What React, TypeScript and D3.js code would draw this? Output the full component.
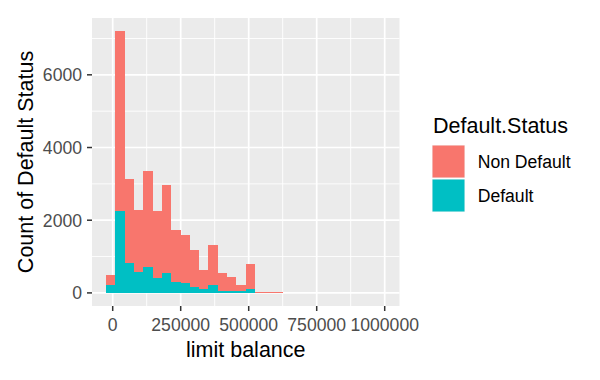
import React, { useEffect } from 'react';
import * as d3 from 'd3';

// ---- data ----
const binStart = -24700;
const binWidth = 34257;
const binCount = 30;
const totalCounts = [490, 7203, 3141, 2289, 3342, 2242, 2977, 1719, 1601, 1169, 627, 1315, 536, 426, 215, 784, 30, 20, 15, 0, 0, 0, 0, 0, 0, 0, 0, 0, 0, 0];
const defaultCounts = [215, 2242, 820, 583, 710, 418, 536, 289, 261, 170, 96, 215, 60, 60, 50, 105, 0, 0, 0, 0, 0, 0, 0, 0, 0, 0, 0, 0, 0, 0];
const groupLabels = ['Non Default', 'Default'];
const groupColors = ['#F8766D', '#00BFC4'];
const xTicks = [0, 250000, 500000, 750000, 1000000];
const yTicks = [0, 2000, 4000, 6000];
const legendTitle = 'Default.Status';
const xTitle = 'limit balance';
const yTitle = 'Count of Default Status';

const W = 600;
const H = 380;
const panel = { left: 92, right: 399.5, top: 18, bottom: 306 };
const FONT = '"Liberation Sans", Arial, sans-serif';

export default function App() {
  useEffect(() => {
    document.body.style.margin = '0';
  }, []);

  const rows = totalCounts.map((t, i) => ({
    x0: binStart + i * binWidth,
    x1: binStart + (i + 1) * binWidth,
    def: defaultCounts[i],
    non: t - defaultCounts[i],
  }));

  const binEnd = binStart + binCount * binWidth;
  const xr = binEnd - binStart;
  const x = d3
    .scaleLinear()
    .domain([binStart - 0.05 * xr, binEnd + 0.05 * xr])
    .range([panel.left, panel.right]);
  const yMax = d3.max(totalCounts) as number;
  const y = d3
    .scaleLinear()
    .domain([-0.05 * yMax, 1.05 * yMax])
    .range([panel.bottom, panel.top]);

  const stacked = d3.stack<any>().keys(['def', 'non'])(rows);
  // stacked[0] -> Default (teal), stacked[1] -> Non Default (red)
  const layerColor = [groupColors[1], groupColors[0]];

  const xMinor = xTicks.slice(0, -1).map((t, i) => (t + xTicks[i + 1]) / 2)
    .concat([xTicks[xTicks.length - 1] + (xTicks[1] - xTicks[0]) / 2])
    .filter((v) => x(v) > panel.left && x(v) < panel.right);
  const yStep = yTicks[1] - yTicks[0];
  const yMinor = yTicks.map((t) => t + yStep / 2).filter((v) => y(v) > panel.top && y(v) < panel.bottom);

  return (
    <svg width={W} height={H} style={{ display: 'block', background: '#fff' }} fontFamily={FONT}>
      <rect x={panel.left} y={panel.top} width={panel.right - panel.left} height={panel.bottom - panel.top} fill="#EBEBEB" />
      {/* minor grid */}
      {xMinor.map((v) => (
        <line key={'xm' + v} x1={x(v)} x2={x(v)} y1={panel.top} y2={panel.bottom} stroke="#fff" strokeWidth={0.9} />
      ))}
      {yMinor.map((v) => (
        <line key={'ym' + v} y1={y(v)} y2={y(v)} x1={panel.left} x2={panel.right} stroke="#fff" strokeWidth={0.9} />
      ))}
      {/* major grid */}
      {xTicks.map((v) => (
        <line key={'xg' + v} x1={x(v)} x2={x(v)} y1={panel.top} y2={panel.bottom} stroke="#fff" strokeWidth={1.7} />
      ))}
      {yTicks.map((v) => (
        <line key={'yg' + v} y1={y(v)} y2={y(v)} x1={panel.left} x2={panel.right} stroke="#fff" strokeWidth={1.7} />
      ))}
      {/* bars */}
      {stacked.map((layer, li) => (
        <g key={'l' + li} fill={layerColor[li]} shapeRendering="crispEdges">
          {layer.map((d, i) =>
            d[1] - d[0] > 0 ? (
              <rect
                key={i}
                x={x(rows[i].x0)}
                width={x(rows[i].x1) - x(rows[i].x0)}
                y={y(d[1])}
                height={y(d[0]) - y(d[1])}
              />
            ) : null
          )}
        </g>
      ))}
      {/* axes ticks */}
      {xTicks.map((v) => (
        <g key={'xt' + v}>
          <line x1={x(v)} x2={x(v)} y1={panel.bottom} y2={panel.bottom + 5} stroke="#333" strokeWidth={1.5} />
          <text x={x(v)} y={331} textAnchor="middle" fontSize={17.6} fill="#4D4D4D">
            {String(v)}
          </text>
        </g>
      ))}
      {yTicks.map((v) => (
        <g key={'yt' + v}>
          <line x1={panel.left - 5} x2={panel.left} y1={y(v)} y2={y(v)} stroke="#333" strokeWidth={1.5} />
          <text x={82} y={y(v) + 6.3} textAnchor="end" fontSize={17.6} fill="#4D4D4D">
            {String(v)}
          </text>
        </g>
      ))}
      {/* axis titles */}
      <text x={(panel.left + panel.right) / 2} y={357} textAnchor="middle" fontSize={21.5} fill="#000">
        {xTitle}
      </text>
      <text
        transform={`translate(33,${(panel.top + panel.bottom) / 2}) rotate(-90)`}
        textAnchor="middle"
        fontSize={21.5}
        fill="#000"
      >
        {yTitle}
      </text>
      {/* legend */}
      <text x={433} y={133} fontSize={21.5} fill="#000">
        {legendTitle}
      </text>
      {groupLabels.map((g, i) => (
        <g key={'lg' + g}>
          <rect x={431.5} y={144.5 + i * 34} width={34} height={34} fill="#F2F2F2" stroke="#fff" strokeWidth={1} />
          <rect x={432.5} y={145.5 + i * 34} width={32} height={32} fill={groupColors[i]} />
          <text x={477.7} y={161.5 + i * 34 + 6.3} fontSize={17.6} fill="#000">
            {g}
          </text>
        </g>
      ))}
    </svg>
  );
}
